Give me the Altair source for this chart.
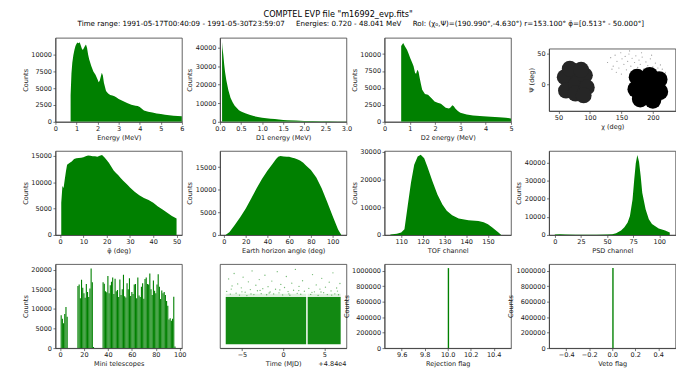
import altair as alt
import pandas as pd

GAP = "\u00a0" * 5
TITLE = 'COMPTEL EVP file "m16992_evp.fits"'
SUBTITLE = ("Time range: 1991-05-17T00:40:09 - 1991-05-30T23:59:07" + GAP +
            "Energies: 0.720 - 48.041 MeV" + GAP +
            "RoI: (χ₀,Ψ)=(190.990°,-4.630°) r=153.100° φ̄=[0.513° - 50.000°]")

# ---- Energy histogram
energy_mev = [0.72, 0.76, 0.8, 0.85, 0.9, 0.95, 1.0, 1.05, 1.1, 1.15, 1.2, 1.25, 1.3, 1.35, 1.4,
              1.45, 1.5, 1.55, 1.6, 1.7, 1.8, 1.9, 2.0, 2.05, 2.1, 2.15, 2.2, 2.25, 2.3, 2.4, 2.5,
              2.6, 2.7, 2.8, 2.9, 3.0, 3.2, 3.4, 3.6, 3.8, 3.9, 4.0, 4.2, 4.4, 4.6, 4.8, 5.0, 5.2,
              5.4, 5.6, 5.8, 6.0]
energy_counts = [4000, 7200, 8800, 9900, 10700, 11300, 11600, 11800, 11700, 11850, 11400, 10900,
                 10700, 11000, 11300, 11500, 11000, 10000, 9300, 8300, 7500, 7000, 6300, 5900,
                 6100, 6700, 7300, 6900, 5800, 4600, 4200, 4000, 3900, 3800, 3600, 3400, 3100,
                 2800, 2550, 2400, 2350, 2200, 1700, 1500, 1380, 1250, 1150, 1050, 980, 920, 860, 810]

# ---- D1 energy
d1_mev = [0.05, 0.06, 0.08, 0.1, 0.12, 0.15, 0.2, 0.25, 0.3, 0.35, 0.4, 0.45, 0.5, 0.6, 0.7, 0.8,
          0.9, 1.0, 1.1, 1.2, 1.3, 1.4, 1.5, 1.6, 1.8, 2.0, 2.2, 2.4, 2.6, 2.8, 3.0]
d1_counts = [43000, 40000, 36000, 31000, 27000, 22500, 17000, 13000, 10500, 8700, 7400, 6300, 5500,
             4600, 3800, 3100, 2600, 2200, 1900, 1700, 1500, 1200, 1000, 850, 650, 500, 400, 320,
             260, 210, 170]

# ---- D2 energy
d2_mev = [0.66, 0.7, 0.74, 0.8, 0.89, 0.95, 1.02, 1.1, 1.15, 1.21, 1.25, 1.28, 1.31, 1.35, 1.38,
          1.44, 1.49, 1.6, 1.72, 1.85, 1.98, 2.1, 2.23, 2.42, 2.55, 2.62, 2.68, 2.74, 2.8, 2.9,
          3.0, 3.25, 3.5, 3.9, 4.2, 4.53, 4.8, 5.0]
d2_counts = [11200, 11400, 11650, 11200, 10650, 10100, 9400, 8700, 8200, 7200, 7100, 7450, 7700,
             7300, 6700, 5600, 4750, 4100, 4000, 3500, 3000, 2800, 2650, 2060, 1960, 2150, 2450,
             2300, 1960, 1600, 1320, 1080, 950, 830, 760, 690, 600, 500]

# ---- Sky distribution (chi, psi)
left_chi = [60, 62, 75, 78, 77, 92, 95, 90, 68, 86]
left_psi = [12, -10, 22, 0, -15, 15, -5, -18, 26, 24]
right_chi = [175, 195, 210, 211, 200, 180, 173, 192, 185]
right_psi = [12, 15, 8, -12, -26, -24, -8, -5, 5]
sparse_chi = [128, 133, 137, 140, 143, 146, 149, 151, 154, 156, 158, 160, 162, 165, 167, 169, 171,
              173, 176, 178, 180, 183, 186, 189, 192, 196, 200, 204, 208, 212, 135, 142, 150, 163,
              170, 182, 190, 198, 215, 220]
sparse_psi = [36, 44, 30, 48, 38, 27, 52, 42, 33, 46, 24, 38, 50, 30, 43, 21, 36, 47, 28, 40, 33,
              45, 26, 37, 31, 42, 29, 35, 27, 32, 25, 20, 17, 55, 15, 52, 22, 48, 25, 20]

# ---- phibar
phibar_deg = [0.5, 1.0, 1.5, 2, 2.5, 3, 4, 5, 6, 7, 8, 9, 10, 11, 12, 13, 14, 15, 16, 17, 18, 19,
              20, 21, 22, 23, 24, 25, 26, 27, 28, 29, 30, 32, 34, 36, 38, 40, 42, 44, 46, 48, 50]
phibar_counts = [6100, 9250, 8900, 10500, 12000, 13300, 13600, 13900, 14400, 14500, 14550, 14600,
                 14700, 14900, 15050, 15000, 14900, 14900, 14800, 15000, 15150, 14700, 14200,
                 13600, 12900, 12200, 11750, 11300, 10800, 10300, 9900, 9450, 9000, 8200, 7500,
                 7000, 6600, 6100, 5400, 4800, 4200, 3600, 3100]

# ---- Earth horizon angle
earth_deg = [1.5, 5, 10, 15, 20, 25, 30, 35, 40, 45, 48, 50, 52, 55, 58, 60, 63, 65, 68, 70, 73,
             75, 80, 85, 90, 95, 100, 105, 108]
earth_counts = [0, 600, 2200, 3900, 5800, 8000, 10300, 12400, 14200, 15800, 16800, 17300, 17500,
                17400, 17300, 17300, 17100, 17000, 16700, 16500, 16000, 15500, 14400, 12700,
                10300, 7300, 4200, 1200, 0]

# ---- TOF channel
tof_ch = [105, 108, 110, 111.5, 113, 114.5, 116, 117.6, 119, 120.6, 122, 124.4, 126.7, 129, 131,
          133.5, 136.5, 141, 145.6, 148, 150, 152, 154.7, 156]
tof_counts = [200, 400, 900, 2100, 10500, 18800, 25300, 28300, 28900, 27700, 24800, 19400, 14600,
              11000, 8700, 7100, 5950, 5350, 5000, 4600, 3900, 2700, 950, 100]

# ---- PSD channel
psd_ch = [0, 5, 10, 20, 30, 40, 50, 55, 58.7, 63.4, 66.6, 69.7, 71.9, 74.4, 76, 77.5, 79, 80.6,
          82.2, 83.7, 86.9, 90, 93, 99.4, 105.6, 109.4, 110]
psd_counts = [300, 400, 250, 100, 100, 150, 200, 400, 900, 2400, 4200, 6900, 10500, 19600, 30500,
              39600, 44200, 40500, 32400, 23300, 14200, 8700, 6000, 3600, 2400, 1450, 1400]

# ---- Mini telescopes
tele_id = ([1, 2, 3, 4, 5, 6]
           + list(range(15, 29))
           + list(range(36, 97)))
tele_counts = ([8400, 7500, 6300, 8700, 10500, 8000]
               + [15800, 16200, 12700, 17400, 15400, 14000, 12800, 16300, 14300, 13000, 15200,
                  20300, 16800, 300]
               + [16800, 16400, 14500, 14200, 18400, 14000, 16000, 16900, 18000, 13800, 17700,
                  14500, 14800, 13000, 17500, 13500, 15000, 18700, 13200, 12900, 16500, 15000,
                  17800, 13300, 14300, 13800, 16200, 16300, 12700, 18000, 13400, 13000, 15600,
                  16500, 12600, 17600, 18000, 16300, 16200, 19000, 15000, 13500, 17200, 14600,
                  14000, 16200, 18800, 15600, 12500, 14700, 14000, 14300, 13500, 12000, 10800,
                  7300, 7600, 7000, 7500, 13100, 400])

# ---- Energy vs time (days relative to MJD 48400)
band_t0 = [-6.97, 2.98]
band_t1 = [2.80, 6.99]
band_e0 = [0.72, 0.72]
band_e1 = [30.0, 30.0]
time_pts_t = [-6.85, -6.62, -6.41, -6.2, -5.95, -5.71, -5.52, -5.3, -5.08, -4.86, -4.61, -4.4,
              -4.22, -3.98, -3.77, -3.55, -3.31, -3.12, -2.9, -2.66, -2.47, -2.21, -2.0, -1.83,
              -1.58, -1.37, -1.15, -0.92, -0.71, -0.5, -0.28, -0.06, 0.17, 0.39, 0.6, 0.82, 1.05,
              1.27, 1.49, 1.71, 1.93, 2.14, 2.36, 2.58, 3.12, 3.35, 3.57, 3.8, 4.02, 4.25, 4.47,
              4.69, 4.92, 5.14, 5.37, 5.6, 5.82, 6.05, 6.28, 6.5, 6.73, 6.9, -6.3, -5.0, -3.9,
              -2.8, -1.7, -0.4, 0.7, 1.9, 3.5, 4.6, 5.9, 6.6]
time_pts_e = [33.5, 41.2, 31.8, 36.9, 44.6, 32.4, 38.1, 31.2, 35.7, 42.3, 33.0, 30.9, 39.4, 34.6,
              46.2, 31.5, 37.3, 33.9, 40.8, 32.1, 35.2, 43.5, 31.4, 36.4, 33.1, 39.9, 31.9, 34.8,
              45.7, 32.6, 37.8, 31.3, 35.9, 42.7, 33.4, 31.1, 38.6, 34.2, 47.1, 32.3, 36.6, 31.7,
              40.1, 33.6, 35.4, 31.6, 43.9, 33.2, 37.5, 31.0, 34.9, 41.6, 32.7, 36.1, 31.5, 39.2,
              33.8, 45.0, 32.0, 35.6, 31.4, 38.4, 34.9, 33.2, 31.9, 34.1, 32.5, 34.4, 32.0, 34.0,
              32.9, 33.1, 31.2, 33.7]

# ---- Flags
rej_flag = [10.0]
veto_flag = [0.0]
n_events = [1034000]

GREEN = "#008000"
W, H = 128, 85


def sc(dom):
    return alt.Scale(domain=dom, nice=False, zero=False)


def ax(vals, fmt, title):
    return alt.Axis(values=vals, format=fmt, title=title)


def hist_panel(xs, ys, xdom, ydom, xticks, yticks, xtitle, xfmt):
    df = pd.DataFrame({"x": xs, "y": ys})
    return alt.Chart(df).mark_area(color=GREEN, clip=True, interpolate="linear").encode(
        x=alt.X("x:Q", scale=sc(xdom), axis=ax(xticks, xfmt, xtitle)),
        y=alt.Y("y:Q", scale=sc(ydom), axis=ax(yticks, "d", "Counts"), stack=None),
    ).properties(width=W, height=H)


# Row 1
p1_hist = hist_panel(energy_mev, energy_counts, [0, 6], [0, 12500], [0, 1, 2, 3, 4, 5, 6],
                     [0, 2500, 5000, 7500, 10000], "Energy (MeV)", "d")
title_layer = alt.Chart(pd.DataFrame({"t": [TITLE]})).mark_text(
    fontSize=8.2, font="DejaVu Sans", color="black", align="center", baseline="middle"
).encode(text="t:N", x=alt.value(286), y=alt.value(-23))
subtitle_layer = alt.Chart(pd.DataFrame({"t": [SUBTITLE]})).mark_text(
    fontSize=7.2, font="DejaVu Sans", color="black", align="center", baseline="middle"
).encode(text="t:N", x=alt.value(309), y=alt.value(-13.5))
p1 = alt.layer(p1_hist, title_layer, subtitle_layer).properties(width=W, height=H)

p2 = hist_panel(d1_mev, d1_counts, [0, 3], [0, 45300], [0, 0.5, 1.0, 1.5, 2.0, 2.5, 3.0],
                [0, 10000, 20000, 30000, 40000], "D1 energy (MeV)", ".1f")
p3 = hist_panel(d2_mev, d2_counts, [0, 5], [0, 12400], [0, 1, 2, 3, 4, 5],
                [0, 2500, 5000, 7500, 10000], "D2 energy (MeV)", "d")

chi_x = alt.X("chi:Q", scale=sc([35, 236]), axis=ax([50, 100, 150, 200], "d", "χ (deg)"))
psi_y = alt.Y("psi:Q", scale=sc([-43.5, 58.7]), axis=ax([0, 50], "d", "Ψ (deg)"))
sky_left = alt.Chart(pd.DataFrame({"chi": left_chi, "psi": left_psi})).mark_circle(
    size=260, color="#262626", opacity=1).encode(x=chi_x, y=psi_y)
sky_right = alt.Chart(pd.DataFrame({"chi": right_chi, "psi": right_psi})).mark_circle(
    size=290, color="black", opacity=1).encode(x=chi_x, y=psi_y)
sky_sparse = alt.Chart(pd.DataFrame({"chi": sparse_chi, "psi": sparse_psi})).mark_circle(
    size=1.5, color="black", opacity=0.4).encode(x=chi_x, y=psi_y)
p4 = alt.layer(sky_left, sky_right, sky_sparse).properties(width=W, height=63)

# Row 2
p5 = hist_panel(phibar_deg, phibar_counts, [-2.0, 52.3], [0, 15900], [0, 10, 20, 30, 40, 50],
                [0, 5000, 10000, 15000], "φ̄ (deg)", "d")
p6 = hist_panel(earth_deg, earth_counts, [-3.6, 112.7], [0, 18600], [0, 20, 40, 60, 80, 100],
                [0, 5000, 10000, 15000], "Earth horizon angle (deg)", "d")
p7 = hist_panel(tof_ch, tof_counts, [102.3, 160.6], [0, 30300], [110, 120, 130, 140, 150],
                [0, 10000, 20000, 30000], "TOF channel", "d")
p8 = hist_panel(psd_ch, psd_counts, [-5.5, 115.5], [0, 46400], [0, 25, 50, 75, 100],
                [0, 10000, 20000, 30000, 40000], "PSD channel", "d")

# Row 3
p9 = alt.Chart(pd.DataFrame({"id": tele_id, "c": tele_counts})).transform_calculate(
    x0="datum.id - 0.46", x1="datum.id + 0.46"
).mark_bar(color=GREEN, clip=True).encode(
    x=alt.X("x0:Q", scale=sc([-3.8, 101.8]), axis=ax([0, 20, 40, 60, 80, 100], "d", "Mini telescopes")),
    x2="x1:Q",
    y=alt.Y("c:Q", scale=alt.Scale(domain=[0, 21400], nice=False), axis=ax([0, 5000, 10000, 15000, 20000], "d", "Counts")),
    y2=alt.datum(0),
).properties(width=W, height=H)

t_x = alt.X("t0:Q", scale=sc([-7.67, 7.69]), axis=ax([-5, 0, 5], "d", "Time (MJD)"))
e_y = alt.Y("e0:Q", scale=sc([-1.65, 50.4]), axis=ax([0, 10, 20, 30, 40, 50], "d", "Energy (MeV)"))
band_df = pd.DataFrame({"t0": band_t0, "t1": band_t1, "e0": band_e0, "e1": band_e1})
band = alt.Chart(band_df).mark_rect(color=GREEN, opacity=0.93).encode(
    x=t_x, x2="t1:Q", y=e_y, y2="e1:Q")
haze = alt.Chart(band_df).transform_calculate(top="datum.e1 + 2.0").mark_rect(
    color=GREEN, opacity=0.12).encode(x=t_x, x2="t1:Q", y=alt.Y("e1:Q", scale=sc([-1.65, 50.4]), axis=None), y2="top:Q")
pts = alt.Chart(pd.DataFrame({"t0": time_pts_t, "e0": time_pts_e})).mark_circle(
    size=1.8, color=GREEN, opacity=0.55).encode(x=t_x, y=e_y)
offset_txt = alt.Chart(pd.DataFrame({"s": ["+4.84e4"]})).mark_text(
    fontSize=6.6, font="DejaVu Sans", color="#1a1a1a", align="right", baseline="middle"
).encode(text="s:N", x=alt.value(W), y=alt.value(H + 16.5))
p10 = alt.layer(band, haze, pts, offset_txt).properties(width=W, height=H)

flag_y = alt.Y("n:Q", scale=alt.Scale(domain=[0, 1085700], nice=False),
               axis=ax([0, 200000, 400000, 600000, 800000, 1000000], "d", "Counts"))
p11 = alt.Chart(pd.DataFrame({"v": rej_flag, "n": n_events})).transform_calculate(
    v1="datum.v + 0.012").mark_bar(color=GREEN).encode(
    x=alt.X("v:Q", scale=sc([9.45, 10.55]), axis=ax([9.6, 9.8, 10.0, 10.2, 10.4], ".1f", "Rejection flag")),
    x2="v1:Q", y=flag_y, y2=alt.datum(0)).properties(width=W, height=H)
p12 = alt.Chart(pd.DataFrame({"v": veto_flag, "n": n_events})).transform_calculate(
    v1="datum.v + 0.012").mark_bar(color=GREEN).encode(
    x=alt.X("v:Q", scale=sc([-0.55, 0.55]), axis=ax([-0.4, -0.2, 0.0, 0.2, 0.4], ".1f", "Veto flag")),
    x2="v1:Q", y=flag_y, y2=alt.datum(0)).properties(width=W, height=H)

chart = alt.concat(
    p1, p2, p3, p4, p5, p6, p7, p8, p9, p10, p11, p12,
    columns=4, spacing={"row": 29.5, "column": 38.5}, bounds="flush", center=True,
).properties(
    padding={"left": 14, "top": -1, "right": 0, "bottom": 0},
    background="white",
).configure_view(
    stroke="#3c3c3c", strokeWidth=0.8
).configure_axis(
    labelFont="DejaVu Sans", titleFont="DejaVu Sans", labelFontSize=6.6, titleFontSize=6.6,
    titleFontWeight="normal", labelColor="#1a1a1a", titleColor="#1a1a1a",
    tickColor="#3c3c3c", domainColor="#3c3c3c", tickSize=2.5, tickWidth=0.7, domainWidth=0.8,
    labelPadding=1.5, titlePadding=2.5, grid=False, labelFlush=False, labelOverlap=False,
)

chart.save("out.html", embed_options={"renderer": "svg", "actions": False})
